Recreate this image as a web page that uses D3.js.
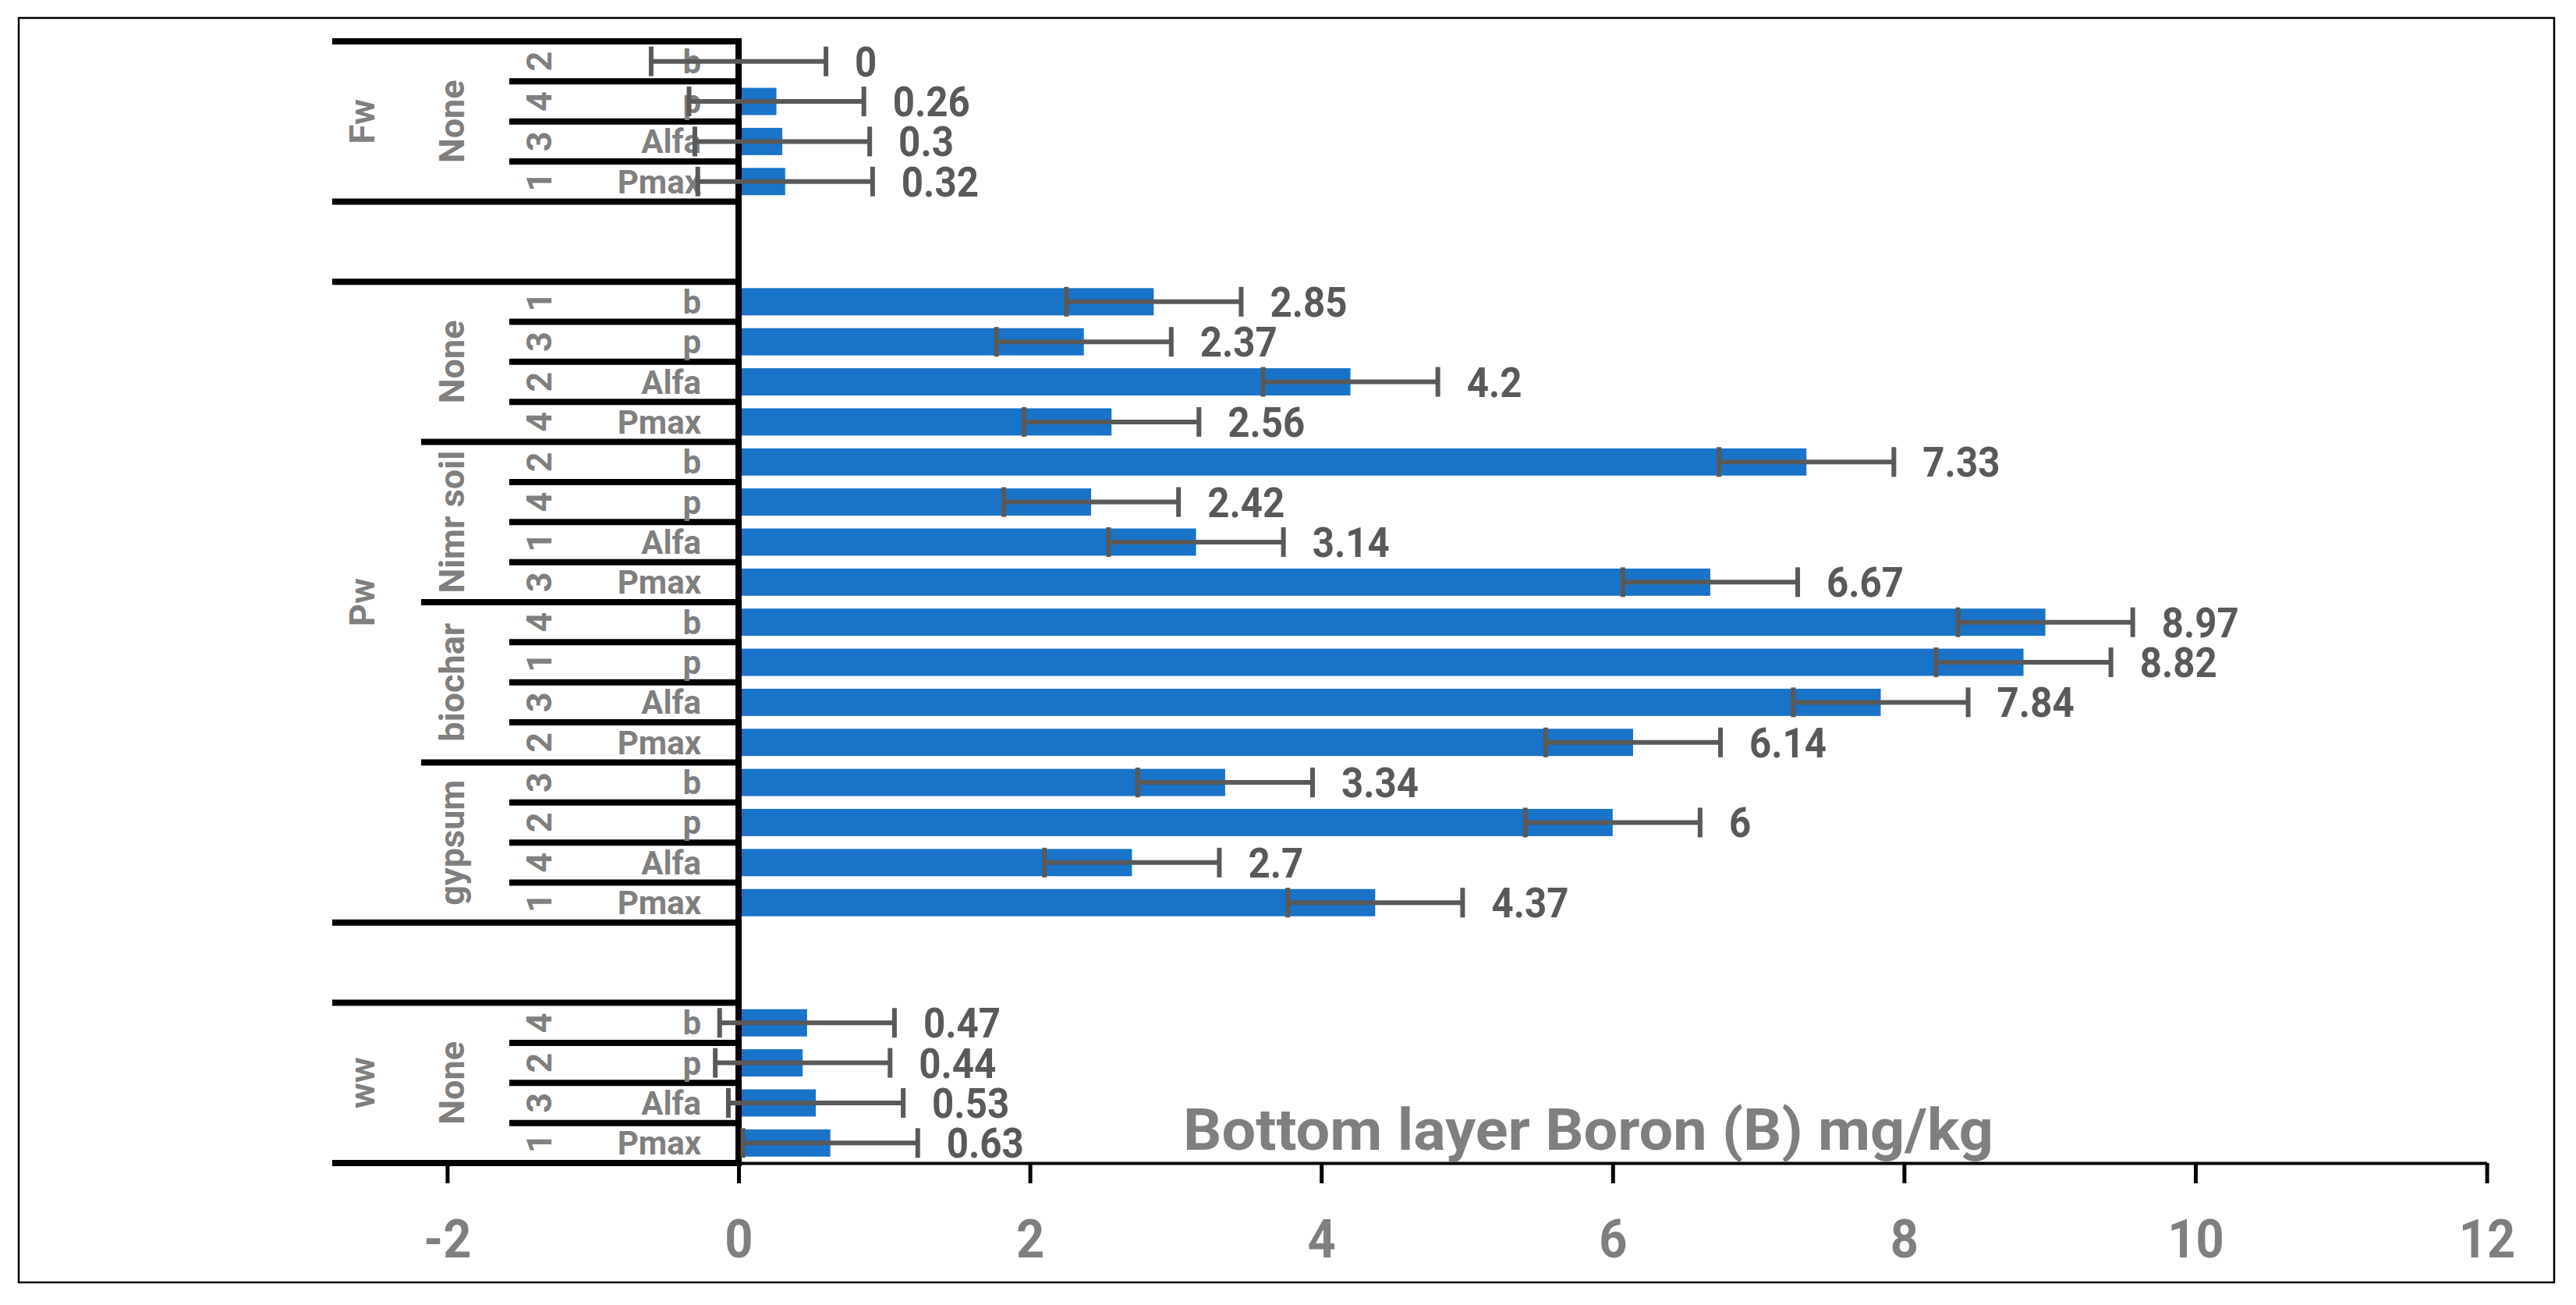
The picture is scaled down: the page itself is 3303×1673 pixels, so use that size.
<!DOCTYPE html>
<html><head><meta charset="utf-8">
<script src="https://cdn.jsdelivr.net/npm/d3@7/dist/d3.min.js"></script>
<style>
html,body{margin:0;padding:0;background:#fff;}
svg{display:block;}
text{font-family:Roboto,"DejaVu Sans",sans-serif;font-weight:700;}
</style>
</head><body>
<svg id="chart" width="3303" height="1673"></svg>
<script>
// ---- data (top to bottom) ----
const waters = ["Fw","Fw","Fw","Fw","","",
  "Pw","Pw","Pw","Pw","Pw","Pw","Pw","Pw","Pw","Pw","Pw","Pw","Pw","Pw","Pw","Pw",
  "","","ww","ww","ww","ww"];
const amendments = ["None","None","None","None","","",
  "None","None","None","None","Nimr soil","Nimr soil","Nimr soil","Nimr soil",
  "biochar","biochar","biochar","biochar","gypsum","gypsum","gypsum","gypsum",
  "","","None","None","None","None"];
const replicates = ["2","4","3","1","","",
  "1","3","2","4","2","4","1","3","4","1","3","2","3","2","4","1",
  "","","4","2","3","1"];
const parameters = ["b","p","Alfa","Pmax","","",
  "b","p","Alfa","Pmax","b","p","Alfa","Pmax","b","p","Alfa","Pmax","b","p","Alfa","Pmax",
  "","","b","p","Alfa","Pmax"];
const values = [0,0.26,0.3,0.32,null,null,
  2.85,2.37,4.2,2.56,7.33,2.42,3.14,6.67,8.97,8.82,7.84,6.14,3.34,6,2.7,4.37,
  null,null,0.47,0.44,0.53,0.63];
const errors = [0.6,0.6,0.6,0.6,null,null,
  0.6,0.6,0.6,0.6,0.6,0.6,0.6,0.6,0.6,0.6,0.6,0.6,0.6,0.6,0.6,0.6,
  null,null,0.6,0.6,0.6,0.6];
const tickValues = [-2,0,2,4,6,8,10,12];
const tickLabels = ["-2","0","2","4","6","8","10","12"];
const titleText = "Bottom layer Boron (B) mg/kg";

// ---- layout ----
const svg = d3.select("#chart");
const W = 3303, H = 1673;
const plotTop = 53, plotBottom = 1491;
const rows = d3.range(values.length);
const xs = d3.scaleLinear().domain([-2,12]).range([573.4,3188.6]);
const rowScale = d3.scaleBand().domain(rows).range([plotTop,plotBottom]);
const barScale = d3.scaleBand().domain(rows).range([plotTop,plotBottom]).paddingInner(0.32).paddingOuter(0.16);
const step = rowScale.step();
const x0 = xs(0);
const lvl = {top:426, mid:540, low:653};
const gray = "#7f7f7f", dark = "#595959", blue = "#1873c9";

svg.append("rect").attr("width",W).attr("height",H).attr("fill","#fff");
svg.append("rect").attr("x",24).attr("y",23).attr("width",3251).attr("height",1621)
  .attr("fill","none").attr("stroke","#000").attr("stroke-width",2.5);

// category boundary lines
const lines = [];
for (let i = 0; i <= rows.length; i++) {
  const a = i > 0 ? i - 1 : null, b = i < rows.length ? i : null;
  let start;
  if (a === null || b === null || waters[a] !== waters[b]) start = lvl.top;
  else if (waters[a] === "" && waters[b] === "") start = null;
  else if (amendments[a] !== amendments[b]) start = lvl.mid;
  else start = lvl.low;
  if (start !== null) lines.push({y: i < rows.length ? rowScale(i) : plotBottom, x: start});
}
svg.append("g").selectAll("line").data(lines).join("line")
  .attr("x1", d => d.x).attr("x2", x0 + 4)
  .attr("y1", d => d.y).attr("y2", d => d.y)
  .attr("stroke","#000").attr("stroke-width",8);

// group labels (rotated)
function runs(arr) {
  const out = []; let s = 0;
  for (let i = 1; i <= arr.length; i++) {
    if (i === arr.length || arr[i] !== arr[s] || waters[i] !== waters[s]) {
      if (arr[s] !== "") out.push({label: arr[s], start: s, end: i - 1});
      s = i;
    }
  }
  return out;
}
function rotated(data, bx, size) {
  svg.append("g").selectAll("text").data(data).join("text")
    .attr("transform", d => `translate(${bx},${(rowScale(d.start) + rowScale(d.end) + step) / 2}) rotate(-90)`)
    .attr("text-anchor","middle").attr("fill",gray).attr("font-size",size)
    .text(d => d.label);
}
rotated(runs(waters), 480, 45);
rotated(runs(amendments), 595, 45);
rotated(rows.filter(i => replicates[i] !== "").map(i => ({label: replicates[i], start: i, end: i})), 707, 45);

// parameter labels
svg.append("g").selectAll("text").data(rows.filter(i => parameters[i] !== "")).join("text")
  .attr("x", 899).attr("y", i => rowScale(i) + step / 2 + 15)
  .attr("text-anchor","end").attr("fill",gray).attr("font-size",42)
  .text(i => parameters[i]);

// bars
const withVal = rows.filter(i => values[i] !== null);
svg.append("g").selectAll("rect").data(withVal).join("rect")
  .attr("x", x0).attr("y", i => barScale(i))
  .attr("width", i => xs(values[i]) - x0).attr("height", barScale.bandwidth())
  .attr("fill", blue);

// value axis
const axis = d3.axisBottom(xs).tickValues(tickValues)
  .tickFormat((d, i) => tickLabels[i]).tickSize(26).tickSizeOuter(0);
const ag = svg.append("g").attr("transform", `translate(0,${plotBottom})`).call(axis);
ag.select(".domain").attr("stroke","#000").attr("stroke-width",4);
ag.selectAll(".tick line").attr("stroke","#000").attr("stroke-width",5);
ag.selectAll(".tick text").attr("y", 121).attr("dy", 0)
  .attr("fill", gray).attr("font-size", 68)
  .attr("font-family", "Roboto, sans-serif").attr("font-weight", 700)
  .attr("transform", "scale(0.93,1)");

// vertical category axis
svg.append("line").attr("x1", x0).attr("x2", x0).attr("y1", plotTop - 4).attr("y2", plotBottom + 2)
  .attr("stroke","#000").attr("stroke-width",8);

// error bars
const eg = svg.append("g").attr("stroke", dark);
withVal.forEach(i => {
  const cy = rowScale(i) + step / 2;
  const lo = xs(values[i] - errors[i]), hi = xs(values[i] + errors[i]);
  eg.append("line").attr("x1", lo).attr("x2", hi).attr("y1", cy).attr("y2", cy).attr("stroke-width", 6);
  [lo, hi].forEach(x => eg.append("line").attr("x1", x).attr("x2", x)
    .attr("y1", cy - 19).attr("y2", cy + 19).attr("stroke-width", 6));
});

// value labels
svg.append("g").selectAll("text").data(withVal).join("text")
  .attr("transform", i => `translate(${xs(values[i] + errors[i]) + 37},${rowScale(i) + step / 2 + 19}) scale(0.93,1)`)
  .attr("fill", dark).attr("font-size", 53)
  .text(i => String(values[i]));

// title
svg.append("text").attr("x", 1517).attr("y", 1474)
  .attr("fill", gray).attr("font-size", 74)
  .attr("textLength", 1039).attr("lengthAdjust", "spacingAndGlyphs")
  .text(titleText);
</script>
</body></html>
